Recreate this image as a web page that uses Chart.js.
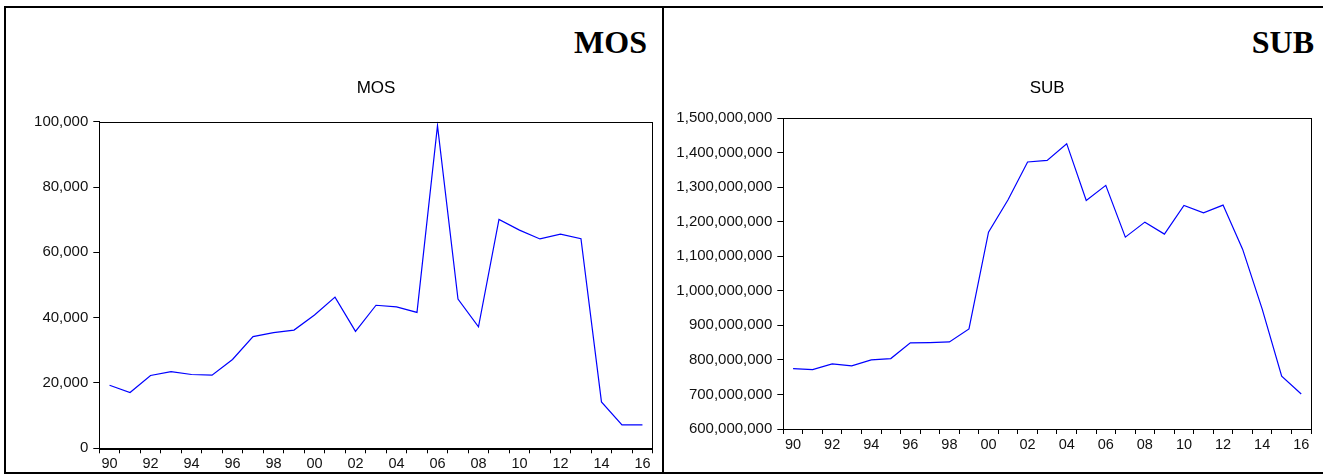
<!DOCTYPE html>
<html>
<head>
<meta charset="utf-8">
<script src="https://cdn.jsdelivr.net/npm/chart.js@4.4.0/dist/chart.umd.min.js"></script>
<style>
  html, body { margin: 0; padding: 0; background: #fff; }
  body { width: 1323px; height: 476px; position: relative; overflow: hidden; }
  .frame { position: absolute; left: 4px; top: 6px; width: 1340px; height: 464px; border: 2px solid #000; }
  .divider { position: absolute; left: 662px; top: 6px; width: 2px; height: 468px; background: #000; }
  .big { position: absolute; top: 26px; font: bold 32px "Liberation Serif", "Times New Roman", serif; line-height: 32px; text-align: right; color: #000; }
  canvas { position: absolute; top: 0; }
</style>
</head>
<body>
<div class="frame"></div>
<div class="divider"></div>
<div class="big" style="left:0; width:647px;">MOS</div>
<div class="big" style="left:664px; width:650px;">SUB</div>
<canvas id="mos" width="661" height="472" style="left:0"></canvas>
<canvas id="sub" width="659" height="472" style="left:664px"></canvas>

<script>
// years 1990..2016, axis shows two-digit labels every other year
const years = ["90","91","92","93","94","95","96","97","98","99","00","01","02","03",
               "04","05","06","07","08","09","10","11","12","13","14","15","16"];

const mosValues = [19300, 17100, 22300, 23500, 22600, 22400, 27200, 34200, 35400, 36200,
                   40800, 46300, 35800, 43800, 43300, 41600, 98800, 45700, 37200, 70100,
                   66800, 64100, 65600, 64200, 14200, 7200, 7200];

const subValues = [774800000, 771900000, 788300000, 782500000, 799900000, 803800000,
                   849200000, 850100000, 852000000, 889700000, 1169800000, 1263400000,
                   1372600000, 1377400000, 1425700000, 1261500000, 1305000000, 1155300000,
                   1198700000, 1164000000, 1247000000, 1225800000, 1248000000, 1120500000,
                   947700000, 752600000, 701400000];

const mosTicks = { min: 0, max: 100000, step: 20000 };
const subTicks = { min: 600000000, max: 1500000000, step: 100000000 };

const fmt = v => Number(v).toLocaleString("en-US");

// plot frame: top and right edges
const boxPlugin = {
  id: "plotBox",
  afterDraw(chart) {
    const a = chart.chartArea, ctx = chart.ctx;
    ctx.save();
    ctx.strokeStyle = "#000";
    ctx.lineWidth = 1;
    ctx.strokeRect(Math.round(a.left) + 0.5, Math.round(a.top) + 0.5,
                   Math.round(a.right - a.left), Math.round(a.bottom - a.top));
    ctx.restore();
  }
};

function makeChart(id, title, values, ticks, g) {
  return new Chart(document.getElementById(id), {
    type: "line",
    data: {
      labels: years,
      datasets: [{
        data: values,
        borderColor: "#0000ff",
        borderWidth: 1.2,
        pointRadius: 0,
        tension: 0,
        fill: false
      }]
    },
    options: {
      responsive: false,
      animation: false,
      devicePixelRatio: 1,
      layout: { padding: { left: 0, right: g.padRight, top: 0, bottom: 0 } },
      plugins: {
        legend: { display: false },
        tooltip: { enabled: false },
        title: {
          display: true,
          text: title,
          fullSize: false,
          color: "#000",
          font: { family: "'Liberation Sans', Arial, sans-serif", size: 17, weight: "normal" },
          padding: { top: 78, bottom: g.titleBottom }
        }
      },
      scales: {
        x: {
          offset: true,
          grid: { offset: true, drawOnChartArea: false, tickLength: 5, color: "#000" },
          border: { color: "#000", width: 1 },
          ticks: {
            autoSkip: false,
            maxRotation: 0,
            padding: 2,
            color: "#111",
            font: { family: "'Liberation Sans', Arial, sans-serif", size: 14.5 },
            callback: (v, i) => (i % 2 === 0 ? years[i] : "")
          },
          afterFit: s => { s.height = g.xHeight; }
        },
        y: {
          min: ticks.min,
          max: ticks.max,
          grid: { drawOnChartArea: false, tickLength: 6, color: "#000" },
          border: { color: "#000", width: 1 },
          ticks: {
            stepSize: ticks.step,
            padding: 5,
            color: "#111",
            font: { family: "'Liberation Sans', Arial, sans-serif", size: 15 },
            callback: v => fmt(v)
          },
          afterFit: s => { s.width = g.yWidth; }
        }
      }
    },
    plugins: [boxPlugin]
  });
}

makeChart("mos", "MOS", mosValues, mosTicks,
  { padRight: 8.3, titleBottom: 23.3, xHeight: 23.7, yWidth: 99.3 });

makeChart("sub", "SUB", subValues, subTicks,
  { padRight: 12, titleBottom: 19.6, xHeight: 43, yWidth: 119.3 });
</script>
</body>
</html>
